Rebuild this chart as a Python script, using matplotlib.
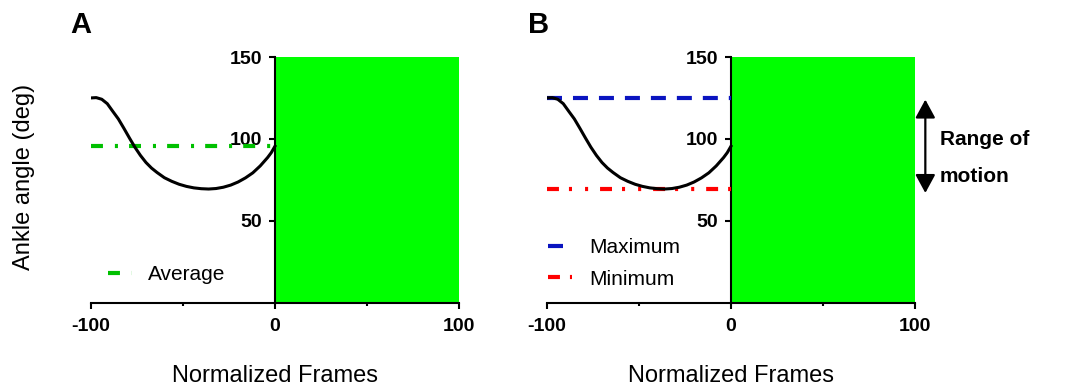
import matplotlib
matplotlib.use('Agg')
import matplotlib.pyplot as plt

plt.rcParams['font.family'] = ['Liberation Sans', 'DejaVu Sans']
plt.rcParams['lines.scale_dashes'] = False

# ankle angle over the stance frames (normalized -100..0)
frames = [-100, -97, -94, -91, -88, -85, -82, -79, -76, -73, -70, -67, -64, -60,
          -56, -52, -48, -44, -40, -36, -32, -28, -24, -20, -16, -12, -8, -4, -2, 0]
angle = [125.0, 125.2, 124.2, 121.5, 116.8, 112.2, 106.5, 100.6, 94.9, 89.9, 85.6,
         82.2, 79.5, 76.3, 74.1, 72.3, 71.0, 70.1, 69.6, 69.4, 69.7, 70.5, 71.8,
         73.7, 76.2, 79.3, 83.5, 88.6, 91.6, 95.5]

avg_angle = 95.5
max_angle = 125.0
min_angle = 69.3
rom_top = 124.0
rom_bottom = 67.0

x_ticks = [-100, 0, 100]
x_tick_labels = ['-100', '0', '100']
x_minor = [-50, 50]
y_ticks = [50, 100, 150]
y_tick_labels = ['50', '100', '150']

W, H = 1078, 391
fig = plt.figure(figsize=(W / 100, H / 100), dpi=100)


def make_axes(left_px):
    ax = fig.add_axes([left_px / W, 1 - 302.7 / H, 368.5 / W, 245.7 / H])
    ax.set_xlim(-100, 100)
    ax.set_ylim(0, 150)
    ax.bar(0, 150, width=100, align='edge', color='#00ff00', zorder=1)
    ax.plot(frames, angle, color='black', lw=2.2, zorder=3.2,
            solid_joinstyle='round')
    for s in ('top', 'right'):
        ax.spines[s].set_visible(False)
    ax.spines['left'].set_position(('data', 0))
    for s in ('left', 'bottom'):
        ax.spines[s].set_linewidth(1.5)
    ax.set_xticks(x_ticks)
    ax.set_xticklabels(x_tick_labels, fontweight='bold', fontsize=14)
    ax.set_xticks(x_minor, minor=True)
    ax.set_yticks(y_ticks)
    ax.set_yticklabels(y_tick_labels, fontweight='bold', fontsize=14)
    ax.tick_params(which='major', direction='out', length=4.3, width=1.5)
    ax.tick_params(axis='x', which='major', pad=7)
    ax.tick_params(axis='y', which='major', pad=5)
    ax.tick_params(which='minor', direction='out', length=2.3, width=1.5)
    ax.text(0.5, -0.323, 'Normalized Frames', transform=ax.transAxes,
            fontsize=17, ha='center', va='baseline')
    return ax


axA = make_axes(90.7)
axB = make_axes(546.7)

# panel A: average angle
axA.plot([-100, 0], [avg_angle, avg_angle], color='#00c000', lw=3,
         dashes=(8.6, 8.6, 2.2, 8.0), zorder=3, label='Average')
axA.legend(loc='center left', bbox_to_anchor=(0.046, 0.113), frameon=False,
           fontsize=15, handlelength=1.15, handletextpad=0.8,
           borderpad=0, borderaxespad=0)

# panel B: maximum / minimum and range of motion
axB.plot([-100, 0], [max_angle, max_angle], color='#0a14c0', lw=3,
         dashes=(10.8, 7.9), zorder=3, label='Maximum')
axB.plot([-100, 0], [min_angle, min_angle], color='#ff0000', lw=3,
         dashes=(8.6, 7.2, 2.2, 9.4, 2.2, 8.6), zorder=3, label='Minimum')
axB.legend(loc='center left', bbox_to_anchor=(0.004, 0.16), frameon=False,
           fontsize=15, handlelength=1.15, handletextpad=0.8, labelspacing=0.6,
           borderpad=0, borderaxespad=0)
axB.annotate('', xy=(105.5, rom_top), xytext=(105.5, rom_bottom),
             arrowprops=dict(arrowstyle='<|-|>,head_length=0.7,head_width=0.38',
                             color='black', lw=1.6, shrinkA=0, shrinkB=0,
                             mutation_scale=16),
             annotation_clip=False)
fig.text(940 / W, 1 - 182 / H, 'Range of\nmotion', fontsize=15, fontweight='bold',
         ha='left', va='baseline', linespacing=2.2)

fig.text(24 / W, 1 - 177 / H, 'Ankle angle (deg)', rotation=90, fontsize=17,
         ha='center', va='center')
fig.text(70 / W, 1 - 33 / H, 'A', fontsize=21, fontweight='bold', va='baseline')
fig.text(528 / W, 1 - 33 / H, 'B', fontsize=21, fontweight='bold', va='baseline')

fig.savefig('out.png', dpi=100)
